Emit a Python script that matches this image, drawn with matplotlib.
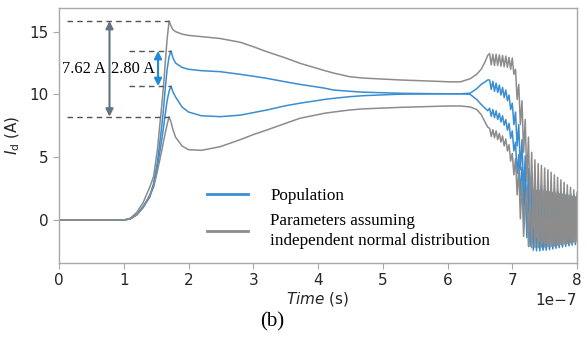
import matplotlib
matplotlib.use("Agg")
import matplotlib.pyplot as plt
import numpy as np

# time base in ns: smooth part, then the ringing part (half-period steps)
t_smooth = [0, 100, 110, 120, 130, 140, 146, 152, 159, 162, 164, 167, 170, 173, 176,
            180, 190, 200, 220, 249, 280, 300, 321, 350, 372, 410, 424, 449, 470,
            527, 580, 604, 620, 635, 645, 652, 658, 662]
t_ring = [665, 667.5, 670, 672.5, 675, 677.5, 680, 682.5, 685, 687.5,
          690, 692.5, 695, 697.5, 700, 702.5, 705, 707.5, 710, 712.5,
          715, 717.5, 720, 722.5, 725, 727.5, 730, 732.5, 735, 737.5,
          740, 742.5, 745, 747.5, 750, 752.5, 755, 757.5, 760, 762.5,
          765, 767.5, 770, 772.5, 775, 777.5, 780, 782.5, 785, 787.5,
          790, 792.5, 795, 797.5, 800]

# Population (blue): upper and lower bounds
pop_hi_smooth = [0, 0, 0.1, 0.45, 1.1, 1.9, 2.9, 4.6, 7.6, 9.2, 10.4, 12.0, 13.0, 13.46,
                 12.9, 12.5, 12.15, 12.0, 11.89, 11.81, 11.6, 11.45, 11.28, 11.0, 10.8,
                 10.5, 10.35, 10.25, 10.18, 10.09, 10.06, 10.05, 10.05, 10.1, 10.45,
                 10.8, 11.0, 11.15]
pop_hi_ring = [11.15, 10.4, 11.05, 10.25, 10.9, 10.15, 10.75, 9.95, 10.55, 9.75,
               10.35, 9.5, 9.95, 8.8, 9.3, 7.6, 8.6, 5.9, 7.6, 4.0,
               6.4, 2.0, 5.1, 0.0, 4.1, -1.2, 3.5, -1.9, 3.2, -2.15,
               2.95, -2.3, 2.8, -2.3, 2.7, -2.3, 2.65, -2.25, 2.6, -2.2,
               2.5, -2.15, 2.4, -2.1, 2.3, -2.05, 2.25, -2.0, 2.15, -1.95,
               2.05, -1.9, 2.0, -1.85, 1.9]
pop_lo_smooth = [0, 0, 0.08, 0.4, 1.0, 1.8, 2.7, 4.2, 6.5, 7.6, 8.4, 9.5, 10.25, 10.66,
                 10.2, 9.8, 9.0, 8.6, 8.3, 8.23, 8.35, 8.55, 8.76, 9.1, 9.3, 9.6, 9.69,
                 9.82, 9.9, 10.02, 10.04, 10.05, 10.05, 10.0, 9.6, 9.2, 8.9, 8.7]
pop_lo_ring = [8.9, 8.25, 8.8, 8.15, 8.7, 8.0, 8.5, 7.8, 8.3, 7.55,
               8.0, 7.15, 7.7, 6.5, 7.1, 5.5, 6.2, 3.7, 5.2, 1.9,
               4.2, 0.1, 3.2, -1.4, 2.8, -2.1, 2.7, -2.4, 2.6, -2.45,
               2.55, -2.45, 2.5, -2.4, 2.45, -2.4, 2.4, -2.35, 2.35, -2.3,
               2.3, -2.25, 2.25, -2.2, 2.2, -2.15, 2.15, -2.1, 2.1, -2.05,
               2.05, -2.0, 2.0, -1.95, 1.95]

# Independent normal parameters (gray): upper and lower bounds
ind_hi_smooth = [0, 0, 0.15, 0.6, 1.4, 2.6, 3.45, 5.6, 9.3, 11.0, 12.5, 14.4, 15.85,
                 15.45, 15.15, 15.0, 14.8, 14.7, 14.6, 14.45, 14.15, 13.8, 13.4, 12.9,
                 12.48, 11.9, 11.7, 11.41, 11.3, 11.15, 11.05, 11.0, 11.0, 11.25, 11.6,
                 12.0, 12.6, 13.1]
ind_hi_ring = [13.25, 12.35, 13.2, 12.3, 13.2, 12.3, 13.15, 12.25, 13.1, 12.2,
               13.05, 12.15, 12.95, 12.0, 12.9, 11.6, 12.0, 9.6, 10.8, 7.6,
               9.5, 5.4, 8.0, 3.1, 6.6, 1.0, 5.4, -0.6, 4.8, -1.4,
               4.5, -1.7, 4.35, -1.8, 4.15, -1.85, 4.0, -1.9, 3.8, -1.95,
               3.6, -1.95, 3.4, -1.95, 3.2, -1.9, 3.0, -1.9, 2.8, -1.85,
               2.6, -1.8, 2.4, -1.75, 2.2]
ind_lo_smooth = [0, 0, 0.1, 0.4, 1.0, 2.0, 2.6, 3.9, 5.6, 6.4, 6.9, 7.6, 8.23, 7.8,
                 7.2, 6.6, 5.9, 5.6, 5.55, 5.84, 6.4, 6.8, 7.17, 7.7, 8.1, 8.5, 8.6,
                 8.76, 8.85, 8.97, 9.05, 9.08, 9.08, 9.0, 8.8, 8.4, 7.8, 7.4]
ind_lo_ring = [7.3, 6.65, 7.2, 6.55, 7.1, 6.4, 6.9, 6.2, 6.7, 5.9,
               6.45, 5.5, 6.0, 4.7, 5.3, 3.6, 4.9, 2.0, 4.1, 0.1,
               3.1, -1.3, 1.0, 2.5, -2.1, 2.4, -2.2, 2.4, -2.2, 2.35,
               -2.2, 2.35, -2.15, 2.3, -2.15, 2.3, -2.1, 2.25, -2.1, 2.2,
               -2.05, 2.15, -2.0, 2.1, -1.95, 2.05, -1.9, 2.0, -1.85, 1.95,
               -1.8, 1.9, -1.75, 1.85, -1.7]

spread_labels = ["7.62 A", "2.80 A"]

BLUE = "#3a8dd2"
GRAY = "#8c8c8c"
SERIF = "Liberation Serif"

t = np.array(t_smooth + t_ring) * 1e-9
pop_hi = np.array(pop_hi_smooth + pop_hi_ring)
pop_lo = np.array(pop_lo_smooth + pop_lo_ring)
ind_hi = np.array(ind_hi_smooth + ind_hi_ring)
ind_lo = np.array(ind_lo_smooth + ind_lo_ring)

fig = plt.figure(figsize=(5.87, 3.47), dpi=100)
ax = fig.add_axes([0.1005, 0.242, 0.8825, 0.735])

ax.plot(t, pop_hi, color=BLUE, lw=1.1, label="Population")
ax.plot(t, pop_lo, color=BLUE, lw=1.1)
ax.plot(t, ind_hi, color=GRAY, lw=1.1,
        label="Parameters assuming\nindependent normal distribution")
ax.plot(t, ind_lo, color=GRAY, lw=1.1)

# first-peak levels (the turn-on overshoot, before 300 ns)
early = t < 300e-9
i_hi, i_lo = ind_hi[early].max(), ind_lo[early].max()
p_hi, p_lo = pop_hi[early].max(), pop_lo[early].max()
t_ipk = t[early][ind_hi[early].argmax()]
t_ppk = t[early][pop_hi[early].argmax()]

dash = (0, (4, 3))
ax.hlines([i_hi, i_lo], 0.12e-7, t_ipk, colors="#555555", lw=1, linestyles=dash)
ax.hlines([p_hi, p_lo], 1.08e-7, t_ppk, colors="#555555", lw=1, linestyles=dash)

ax.annotate("", xy=(0.78e-7, i_hi), xytext=(0.78e-7, i_lo),
            arrowprops=dict(arrowstyle="<|-|>", color="#5f7480", lw=1.5,
                            mutation_scale=11, shrinkA=0, shrinkB=0))
ax.annotate("", xy=(1.53e-7, p_hi), xytext=(1.53e-7, p_lo),
            arrowprops=dict(arrowstyle="<|-|>", color="#1f8ad6", lw=1.5,
                            mutation_scale=11, shrinkA=0, shrinkB=0))
ax.text(0.38e-7, 12.0, spread_labels[0], family=SERIF, fontsize=11.8,
        ha="center", va="center")
ax.text(1.14e-7, 12.0, spread_labels[1], family=SERIF, fontsize=11.8,
        ha="center", va="center")

ax.set_xlim(0, 8e-7)
ax.set_ylim(-3.42, 16.88)
ax.set_yticks([0, 5, 10, 15])
ax.set_xticks(np.arange(0, 9) * 1e-7)

for s in ax.spines.values():
    s.set_color("#a8a8a8")
    s.set_linewidth(1.0)
ax.tick_params(colors="#a8a8a8", labelcolor="#262626", labelsize=11, length=4)
ax.xaxis.get_offset_text().set_fontsize(11)
ax.xaxis.get_offset_text().set_color("#262626")

ax.set_xlabel(r"$\it{Time}$ (s)", fontsize=11, color="#262626", labelpad=1)
ax.set_ylabel(r"$I_{\mathrm{d}}$ (A)", fontsize=11, color="#262626")
ax.yaxis.set_label_coords(-0.071, 0.5)

leg = ax.legend(loc="upper left", bbox_to_anchor=(0.286, 0.295), frameon=False,
                prop={"family": SERIF, "size": 12.3}, borderpad=0,
                borderaxespad=0, handlelength=2.4, handletextpad=1.3,
                labelspacing=0.55)
for h in leg.legend_handles:
    h.set_linewidth(2.0)
for txt in leg.get_texts():
    txt.set_linespacing(1.3)

fig.text(0.463, 0.072, "(b)", family=SERIF, fontsize=15, ha="center", va="center")

fig.savefig("out.png", dpi=100)
